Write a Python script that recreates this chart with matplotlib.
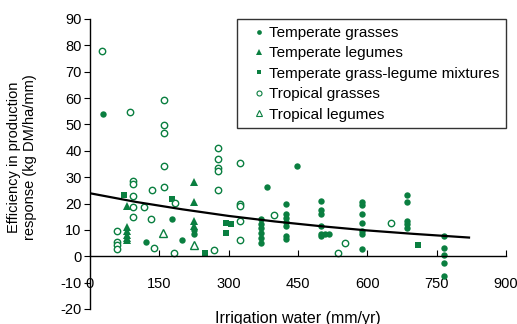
import matplotlib.pyplot as plt
from matplotlib.lines import Line2D

plt.rcParams['font.family'] = ['Liberation Sans', 'DejaVu Sans']
plt.rcParams['axes.unicode_minus'] = False

# values (irrigation mm/yr, efficiency kg DM/ha/mm)
temp_grass_x = [28, 121, 177, 200, 225, 225,
                371, 371, 371, 371, 371, 371, 383,
                425, 425, 425, 425, 425, 425, 425, 447,
                499, 499, 499, 499, 499, 499, 508, 518,
                588, 588, 588, 588, 588, 588, 588,
                686, 686, 686, 686, 686,
                765, 765, 765, 765, 765]
temp_grass_y = [54, 5.4, 14, 6.2, 10, 8.3,
                14, 12.1, 10.9, 9, 7.1, 5.2, 26.3,
                19.7, 15.9, 14.7, 13, 11.5, 7.7, 6.4, 34.3,
                21, 17.4, 15.9, 11.5, 8.3, 7.7, 8.3, 8.3,
                20.4, 19.3, 15.9, 12.8, 9.6, 8.3, 2.9,
                23.3, 20.6, 13.4, 12.1, 10.9,
                7.7, 3.3, 0.4, -2.4, -7.5]

temp_legume_x = [81, 81, 81, 81, 81, 81, 225, 225, 225, 225]
temp_legume_y = [19.1, 11, 9.5, 8, 7, 6, 28.3, 20.4, 13.4, 11.5]

mix_x = [74, 178, 248, 295, 304, 295, 709]
mix_y = [23.3, 21.6, 1.1, 12.8, 12.1, 9, 4.2]

trop_grass_x = [25, 86, 160, 160, 160, 160,
                92, 92, 92, 92, 92, 135, 161, 116, 133, 183, 139, 181,
                58, 58, 58, 58,
                278, 278, 278, 278, 278,
                324, 324, 324, 324, 324,
                269, 398, 536, 552, 651]
trop_grass_y = [78, 54.6, 59.4, 49.8, 46.7, 34.4,
                28.6, 27.3, 22.9, 18.8, 14.8, 25.2, 26.4, 18.8, 14, 20.1, 3.3, 1.4,
                9.7, 5.4, 4.2, 2.9,
                41, 37, 33.3, 32.4, 25.3,
                35.5, 20, 18.9, 13.3, 6.2,
                2.3, 15.7, 1.4, 5.0, 12.5]

trop_legume_x = [159, 226]
trop_legume_y = [9, 4.2]

# trend line
trend_x = [0, 100, 200, 300, 400, 500, 600, 700, 820]
trend_y = [23.9, 20.6, 17.8, 15.3, 13.2, 11.4, 9.8, 8.5, 7.1]

green = '#0A7F40'

fig = plt.figure(figsize=(5.17, 3.24), dpi=100)
ax = fig.add_axes([90 / 517, 1 - 309 / 324, 416 / 517, 290 / 324])

ms = 4.6
ax.plot(temp_grass_x, temp_grass_y, 'o', color=green, ms=ms, mew=0, clip_on=False)
ax.plot(temp_legume_x, temp_legume_y, '^', color=green, ms=ms + 1, mew=0, clip_on=False)
ax.plot(mix_x, mix_y, 's', color=green, ms=ms + 0.4, mew=0, clip_on=False)
ax.plot(trop_grass_x, trop_grass_y, 'o', mfc='white', mec=green, ms=ms, mew=1.0, clip_on=False)
ax.plot(trop_legume_x, trop_legume_y, '^', mfc='white', mec=green, ms=ms + 1, mew=1.0, clip_on=False)
ax.plot(trend_x, trend_y, color='black', lw=1.6)

ax.set_xlim(0, 900)
ax.set_ylim(-20, 90)
ax.set_xticks(range(0, 901, 150))
ax.set_yticks(range(-20, 91, 10))

ax.spines['top'].set_visible(False)
ax.spines['right'].set_visible(False)
ax.spines['bottom'].set_position(('data', 0))
ax.spines['left'].set_linewidth(1.0)
ax.spines['bottom'].set_linewidth(1.0)
ax.tick_params(axis='x', direction='in', length=4, pad=15, labelsize=10.5)
ax.tick_params(axis='y', direction='out', length=4, pad=2, labelsize=10.5)
ax.patch.set_visible(False)

handles = [
    Line2D([], [], ls='', marker='o', color=green, ms=3.4, mew=0),
    Line2D([], [], ls='', marker='^', color=green, ms=4.0, mew=0),
    Line2D([], [], ls='', marker='s', color=green, ms=3.4, mew=0),
    Line2D([], [], ls='', marker='o', mfc='white', mec=green, ms=3.6, mew=0.8),
    Line2D([], [], ls='', marker='^', mfc='white', mec=green, ms=4.0, mew=0.8),
]
labels = ['Temperate grasses', 'Temperate legumes', 'Temperate grass-legume mixtures',
          'Tropical grasses', 'Tropical legumes']
leg = ax.legend(handles, labels, loc='upper right', bbox_to_anchor=(1.0, 1.0),
                borderaxespad=0, fontsize=11, frameon=True, fancybox=False,
                handlelength=1.9, handletextpad=-0.3, borderpad=0.45, labelspacing=0.42)
leg.get_frame().set_edgecolor('black')
leg.get_frame().set_linewidth(1.0)

fig.text(298 / 517, 1 - 318 / 324, 'Irrigation water (mm/yr)', ha='center', va='center', fontsize=11.5)
fig.text(22 / 517, 1 - 157 / 324, 'Efficiency in production\nresponse (kg DM/ha/mm)',
         ha='center', va='center', rotation=90, fontsize=10.5, linespacing=1.1,
         multialignment='center')

fig.savefig('out.png', dpi=100)
